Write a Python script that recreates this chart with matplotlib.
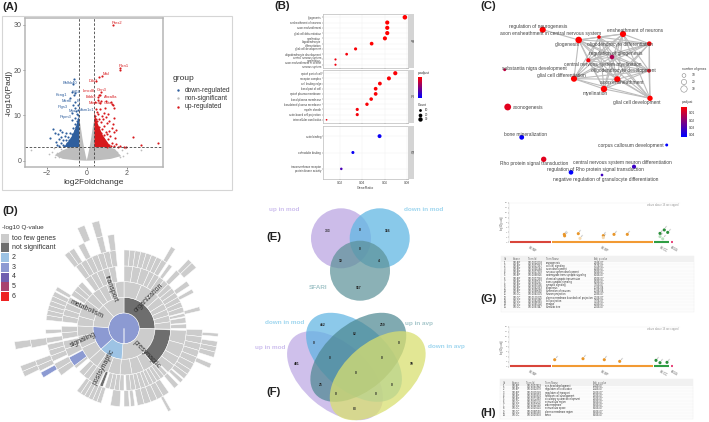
import numpy as np
import matplotlib
matplotlib.use("Agg")
import matplotlib.pyplot as plt
from matplotlib.colors import LinearSegmentedColormap
from matplotlib.patches import Circle, Ellipse, Rectangle

plt.rcParams['font.family'] = ['Liberation Sans', 'DejaVu Sans']

W, H = 709, 422

# ---- panel A, volcano
blue_x = [-0.65,-0.7,-0.72,-0.6,-0.65,-0.85,-0.6,-0.68,-0.45,-0.6,-0.42,-0.55,-0.75,-0.5,-0.42,-0.6,-0.45,-0.75,-0.5,-0.42,-0.6,-0.45,-0.55,-0.42,-0.7,-0.5,-0.6,-1.7,-1.35,-1.25,-1.6,-1.45,-1.05,-0.85,-1.3,-1.1,-0.95,-1.85,-1.4,-0.8,-1.2,-1.05,-0.9,-1.55,-1.3,-1.0,-0.8,-1.5,-1.4,-1.2,-1.05,-0.95,-0.85,-0.75,-0.7,-0.65,-0.72,-0.9,-0.58,-1.12,-0.78,-0.66,-1.0,-0.88,-0.52,-0.48,-0.62,-0.44]
blue_y = [18,16.9,15.2,15,14.5,13.8,13,12.4,12.2,11.7,11.2,11,10.5,10.2,10,9.5,9.2,9,8.7,8.5,8.2,7.9,7.5,7.2,7.2,7,6.7,7,6.7,6.4,6,5.8,6.1,6,5.3,5.4,5.2,5,4.8,5,4.6,4.5,4.5,4.2,4,4,4.1,3.5,3.3,3.5,3.5,3.3,3.6,3.9,4.6,5.2,5.8,3.2,6.1,3.2,3.3,3.5,3.7,4.2,6.4,5.6,4.3,6.9]
blue_env_x = [-0.38,-0.38,-0.46,-0.6,-0.8,-1.0,-1.12,-0.6]
blue_env_y = [3,10,8.6,6.8,4.9,3.8,3,3]

red_x = [1.32,1.65,1.67,0.75,0.6,0.45,0.72,0.68,0.6,0.55,0.58,0.42,0.72,0.66,0.95,1.2,1.25,1.3,1.35,0.9,0.65,0.45,0.5,0.85,1.05,0.55,0.75,0.42,0.95,1.35,0.62,0.8,1.1,0.5,0.7,1.0,1.3,0.45,0.88,0.6,1.25,0.78,0.42,1.45,1.1,0.95,0.7,1.38,1.0,0.52,0.85,1.15,1.4,0.65,2.3,2.7,3.55,1.55,1.65,1.85,1.95,1.45,1.25,1.1,0.95,0.8,0.68,0.58,0.48,1.2,1.05,0.9,0.75,1.35,0.55,0.62,0.84,0.46,1.0,0.72]
red_y = [30,20,20.4,18.6,18.4,17.5,15.2,14.5,14.4,14,13.5,13,13.2,12.8,13.1,13,12.5,12.2,11.7,11.6,11.5,11.3,10.8,10.6,10.3,10.2,9.9,9.8,9.7,9.4,9.3,9.1,8.8,8.7,8.5,8.3,8,7.9,7.6,7.5,7.3,7.1,7,6.8,6.6,6.4,6.2,6.3,5.9,5.8,5.6,5.4,5,5.2,5.3,3.4,3.8,3,3.2,3,3.1,3.6,4,3.4,3.8,4.3,4.6,4.8,6.5,3.2,4.8,3.3,3.6,3.2,5.6,4.4,3.9,9.1,3.1,5.3]
red_env_x = [0.38,0.38,0.46,0.6,0.8,1.0,1.2,0.6]
red_env_y = [3,11,9.2,7.6,5.6,4.3,3,3]

gray_env_x = [-1.6,-1.2,-0.8,-0.55,-0.38,-0.38,-0.32,-0.22,-0.12,-0.05,0.0,0.05,0.12,0.22,0.32,0.38,0.38,0.7,1.0,1.4,1.7,1.2,0.6,0.1,-0.1,-0.6,-1.2]
gray_env_y = [1.2,2.3,3,3,3,9,8,5,2.5,1,0.1,1,2.5,5,8,9,3,3,3,2.6,1,0.4,0.1,0,0,0.1,0.4]
gray_x = [-2.8,-1.9,-1.75,-1.6,-1.5,-1.3,1.5,1.6,1.75,1.8,1.9,2.0,2.7,1.65,-1.4,-1.65]
gray_y = [2.3,1.5,2.0,0.9,1.7,2.6,2.0,1.2,2.4,1.0,2.7,1.6,2.4,0.7,0.8,2.7]

volcano_up = ["Prex2","Plxn1","Mal","Ddx1","Lmcd8","Gnn3","Erbb3","Abca8a","Movelb","Gsta"]
volcano_up_x = [1.5,1.83,0.95,0.34,0.07,0.73,0.2,1.18,0.42,1.08]
volcano_up_y = [30.5,20.8,19.2,17.6,15.4,15.5,14,14.1,12.7,12.7]
volcano_down = ["Bhlhb40","Kcng1","Kif1b","Mertk","Bf","Pigs3","Mpz","Mam1c1","Prpm3"]
volcano_down_x = [-0.82,-1.28,-0.55,-1.0,-0.4,-1.2,-0.7,0,-1.08]
volcano_down_y = [17.1,14.6,15.1,13.2,13.2,11.9,11,11.1,9.6]

# ---- panel B, dot plot
b_bp = ["gliogenesis","ensheathment of neurons","axon ensheathment","glial cell differentiation","myelination","oligodendrocyte\ndifferentiation","glial cell development","oligodendrocyte development","central nervous system\nmyelination","axon ensheathment in central\nnervous system"]
b_bp_ratio = [0.0782,0.0624,0.0624,0.0624,0.0603,0.0484,0.034,0.026,0.016,0.016]
b_bp_count = [36,30,30,30,29,24,17,13,8,8]
b_bp_p = [0.001,0.001,0.001,0.001,0.001,0.001,0.002,0.003,0.004,0.004]
b_cc = ["apical part of cell","receptor complex","cell leading edge","basal part of cell","apical plasma membrane","basal plasma membrane","basolateral plasma membrane","myelin sheath","actin-based cell projection","intercellular canaliculus"]
b_cc_ratio = [0.0696,0.0639,0.0558,0.052,0.052,0.048,0.0442,0.0355,0.0355,0.008]
b_cc_count = [30,28,25,24,24,22,20,17,17,5]
b_cc_p = [0.002,0.002,0.002,0.002,0.002,0.002,0.002,0.003,0.003,0.004]
b_mf = ["actin binding","calmodulin binding","transmembrane receptor\nprotein kinase activity"]
b_mf_ratio = [0.0555,0.0316,0.0212]
b_mf_count = [27,16,11]
b_mf_p = [0.048,0.048,0.036]

# ---- panel C, network (node and label places in reference pixels)
c_names = ["regulation of neurogenesis","axon ensheathment in central nervous system","ensheathment of neurons","gliogenesis","oligodendrocyte differentiation","regulation of gliogenesis","central nervous system myelination","oligodendrocyte development","glial cell differentiation","axon ensheathment","myelination","glial cell development","substantia nigra development","axonogenesis","bone mineralization","corpus callosum development","Rho protein signal transduction","central nervous system neuron differentiation","regulation of Rho protein signal transduction","negative regulation of granulocyte differentiation"]
c_node_x = [542.7,599,623,578.7,649.3,612,588.3,649,574,617.3,604,650,504.7,507.7,521.7,666.7,543.7,634,571,602]
c_node_y = [29.7,37,34,40,43.7,57,60.3,70.7,78.7,79.3,89,98.3,69.7,107,137.3,145,159.3,166.7,172.3,175]
c_label_x = [538.3,550.7,635,566.7,620,616,602.3,623.3,561.3,621.7,595.3,636.3,534.3,528.3,525.3,631,533.7,622.3,595.7,606]
c_label_y = [26.3,33.7,30.3,44.3,44.7,53.7,64.3,70.7,75.3,83,93.3,102.3,68.7,107.7,134,145.3,163,162.3,169,179.3]
c_count = [26,9,26,30,15,14,12,10,26,26,28,20,6,32,16,6,20,12,15,5]
c_p = [0.001,0.002,0.001,0.001,0.002,0.015,0.003,0.004,0.001,0.001,0.001,0.001,0.012,0.006,0.044,0.046,0.006,0.035,0.046,0.034]
c_cluster = [0,1,2,3,4,5,6,7,8,9,10,11]
c_extra_edge = (0,3)

# ---- panel D, sunburst: (start deg, end deg, number of cells)
ring_r = [46,93,140,187,235,283,331]
r1_edges = [(0,91),(91,184),(184,228),(228,273),(273,318),(318,360)]
r1_colors = ["#6e6e6e","#cccccc","#9dc3e4","#8c9ad2","#cccccc","#cccccc"]
r2_cells = [(0,22,1),(22,38,1),(38,48,1),(48,58,1),(58,66,1),(66,74,1),(74,82,1),(82,91,1),(92,141,1),(141,155,1),(155,170,1),(170,185,1),(185,200,1),(200,215,1),(215,228,1),(228,245,1),(245,260,1),(260,273,1),(273,285,1),(285,296,1),(296,307,1),(307,318,1),(318,328,1),(328,338,1),(338,349,1),(349,360,1)]
r2_colors = ["#cccccc"]*8+["#6e6e6e"]+["#cccccc"]*17
r3_cells = [(0,24,3),(24,45,4),(45,75,6),(76,79,1),(80,85,1),(86,90,1),(92,118,2),(118,135,2),(136,160,6),(160,178,4),(180,198,4),(204,226,4),(230,233,1),(243,258,2),(260,272,2),(276,300,4),(302,318,3),(322,352,5)]
r3_dark = (200,203)
r3_blue = (233,242)
r4_cells = [(0,33,8),(35,38,1),(42,46,1),(53,57,1),(60,63,1),(74,77,1),(91,122,6),(122,130,2),(131,134,1),(136,140,1),(145,170,5),(172,175,1),(176,180,1),(183,190,1),(197,217,6),(233,243,2),(245,258,3),(259,263,1),(266,269,1),(276,298,6),(299,302,1),(322,354,7)]
r5_cells = [(30,33,1),(43,46,1),(46,50,1),(93,95,1),(98,108,3),(112,115,1),(150,152,1),(243,250,2),(258,263,1),(321,328,2),(331,335,1),(343,347,1),(350,354,1)]
r5_blue = (238.5,242)
r6_cells = [(244,250,2),(259,263,1),(335,339,1),(343,347,1)]
d_labels = ["organization","presynaptic","postsynaptic","signaling","metabolism","transport"]
d_label_x = [148.5,146.5,104,83.5,87,111]
d_label_y = [298,355,367,340,309,289]
d_label_rot = [45,-46,62,25,-25,-70]
d_legend = ["too few genes","not significant","2","3","4","5","6"]
d_legend_col = ["#cccccc","#6e6e6e","#9dc3e4","#8c9ad2","#6f60b0","#a8436f","#ee2222"]

# ---- panels E and F, venn numbers
e_counts = ["333","0","166","0","10","4","967"]
e_x = [328,360,388,360,341,379,359]
e_y = [230.7,230,230.7,249.3,260.7,260.7,288]
f_counts = ["452","259","82","0","0","401","0","0","99","0","25","0","0","0","83"]
f_x = [323,382.3,355,313.7,398.7,297,330.3,382,411.7,355.7,320.7,392.3,336.3,376.3,355]
f_y = [325,325,334,343,343,364.3,358.3,358.3,364.3,373.3,385,385,394.3,394.3,409.3]

# ---- panels G and H, g:Profiler
g_dot_x = [55.3,55.6,69.3,94.3,105,118.3,71,94.3,151,155.3,158.7,151,153.7]
g_dot_y = [1.6,1.3,1.75,1.35,1.6,1.6,0.8,0.95,1.8,2.5,2.0,1.15,0.7]
g_dot_c = ["#e8962a"]*6+["#f6d9ad"]*2+["#2c8f3c"]*3+["#b8e0bd"]*2
h_dot_x = [45.7,74,95.3,110.7,147,151,158]
h_dot_y = [1.4,1.6,1.4,1.07,1.27,0.8,0.87]
h_dot_c = ["#e8962a"]*4+["#2c8f3c"]*3
g_terms = ["neurogenesis","cell-cell signaling","axon development","nervous system development","anterograde trans-synaptic signaling","chemical synaptic transmission","trans-synaptic signaling","synaptic signaling","gliogenesis","generation of neurons","neuron projection","plasma membrane bounded cell projection","cell projection","synapse","dendritic tree"]
g_ids = ["GO:0022008","GO:0007267","GO:0061564","GO:0007399","GO:0098916","GO:0007268","GO:0099537","GO:0099536","GO:0042063","GO:0048699","GO:0043005","GO:0120025","GO:0042995","GO:0045202","GO:0097447"]
g_src = ["GO:BP"]*10+["GO:CC"]*5
g_pv = ["2.88E-07","3.57E-07","4.03E-07","8.02E-07","8.02E-07","8.02E-07","8.02E-07","7.05E-07","1.39E-06","1.39E-06","2.03E-07","2.32E-07","7.97E-07","2.06E-07","2.06E-07"]
h_terms = ["eye-head development","regulation of localization","regulation of transport","forebrain-cell development","circulatory system development","extracellular region","endomembrane","extracellular space","plasma membrane region","cortex"]
h_ids = ["GO:0007423","GO:0032879","GO:0051049","GO:0030900","GO:0072359","GO:0005576","GO:0012505","GO:0005615","GO:0098590","GO:0005938"]
h_src = ["GO:BP"]*5+["GO:CC"]*5
h_pv = ["1.40E-07","1.40E-07","1.80E-07","1.80E-07","1.80E-07","6.80E-07","6.80E-07","6.80E-07","6.80E-07","6.80E-07"]

fig = plt.figure(figsize=(W/100, H/100), dpi=100)

def ax_px(x0, y0, x1, y1, **kw):
    return fig.add_axes([x0/W, 1-y1/H, (x1-x0)/W, (y1-y0)/H], **kw)

# overlay in reference pixels, for everything that has no axis of its own
ov = ax_px(0, 0, W, H, zorder=5)
ov.set_xlim(0, W)
ov.set_ylim(H, 0)
ov.axis('off')
ov.patch.set_alpha(0)

for name, x, y in [("(A)",2,7),("(B)",274,6),("(C)",480,6),("(D)",2,211),("(E)",266,237),("(F)",266,392),("(G)",480,299),("(H)",480,413)]:
    ov.text(x, y, name, fontsize=8.2, fontweight='bold', va='center', color="#222222")

# A
ov.add_patch(Rectangle((2,16), 230, 174, fc='none', ec='#d5d5d5', lw=0.8))
a = ax_px(25, 18, 163, 167)
a.set_xlim(-3.08, 3.8)
a.set_ylim(-1.4, 31.5)
a.fill(gray_env_x, gray_env_y, color='#bdbdbd', lw=0)
a.scatter(gray_x, gray_y, s=1.5, color='#bdbdbd', lw=0)
a.fill(blue_env_x, blue_env_y, color='#2f5f9e', lw=0)
a.fill(red_env_x, red_env_y, color='#d7191c', lw=0)
a.scatter(blue_x, blue_y, s=2.4, color='#2f5f9e', lw=0)
a.scatter(red_x, red_y, s=2.4, color='#d7191c', lw=0)
for v in [-0.38, 0.38]:
    a.axvline(v, color='#444444', lw=0.6, ls=(0,(3,2)))
a.axhline(3, color='#444444', lw=0.6, ls=(0,(3,2)))
for t, x, y in zip(volcano_up, volcano_up_x, volcano_up_y):
    a.text(x, y, t, fontsize=2.9, color='#d7191c', ha='center', va='center')
for t, x, y in zip(volcano_down, volcano_down_x, volcano_down_y):
    a.text(x, y, t, fontsize=2.9, color='#2f5f9e', ha='center', va='center')
a.set_xticks([-2,0,2])
a.set_yticks([0,10,20,30])
a.tick_params(labelsize=5, colors='#555555', length=1.5, width=0.5, pad=1)
a.set_xlabel("log2Foldchange", fontsize=6, labelpad=1, color='#333333')
a.set_ylabel("-log10(Padj)", fontsize=6, labelpad=1, color='#333333')
for s in a.spines.values():
    s.set_color('#b5b5b5')
    s.set_linewidth(1.1)
ov.text(173, 79, "group", fontsize=6, va='center', color='#333333')
for y, c, t in [(90,'#2f5f9e',"down-regulated"),(98,'#bdbdbd',"non-significant"),(107,'#d7191c',"up-regulated")]:
    ov.scatter([178], [y], s=3, color=c, lw=0)
    ov.text(185, y, t, fontsize=4.8, va='center', color='#333333')

# B
rg = LinearSegmentedColormap.from_list('rb', ['#ff0000','#0000ff'])
facets = [(14,68,b_bp,b_bp_ratio,b_bp_count,b_bp_p,"BP"),(70,123,b_cc,b_cc_ratio,b_cc_count,b_cc_p,"CC"),(126,179,b_mf,b_mf_ratio,b_mf_count,b_mf_p,"MF")]
for y0, y1, names, ratio, count, pv, strip in facets:
    f = ax_px(323, y0, 408, y1)
    f.set_xlim(0.0048, 0.081)
    n = len(names)
    pos = np.arange(n)
    f.set_ylim(n-0.5+0.12, -0.5-0.12)
    f.grid(color='#eeeeee', lw=0.3)
    f.set_axisbelow(True)
    f.scatter(ratio, pos, s=np.array(count)*0.3, c=pv, cmap=rg, vmin=0.001, vmax=0.05, lw=0)
    f.set_yticks(pos)
    f.set_yticklabels(names, fontsize=2.0, color='#444444', linespacing=0.8)
    f.set_xticks([0.02,0.04,0.06,0.08])
    if strip == "MF":
        f.set_xticklabels(["0.02","0.04","0.06","0.08"], fontsize=2.3, color='#444444')
        f.set_xlabel("GeneRatio", fontsize=2.6, labelpad=0.5, color='#444444')
    else:
        f.set_xticklabels([])
    f.tick_params(length=0.8, width=0.2, pad=0.6)
    for s in f.spines.values():
        s.set_color('#bbbbbb')
        s.set_linewidth(0.5)
    ov.add_patch(Rectangle((408,y0), 6, y1-y0, fc='#d4d4d4', ec='none'))
    ov.text(411, (y0+y1)/2, strip, fontsize=2.2, rotation=-90, ha='center', va='center', color='#333333')
bar = ax_px(418, 77, 422, 98)
bar.imshow(np.linspace(0,1,50).reshape(-1,1), aspect='auto', cmap=rg)
bar.axis('off')
ov.text(418, 73, "p.adjust", fontsize=2.4, va='center', color='#333333')
ov.text(418, 105, "Count", fontsize=2.4, va='center', color='#333333')
for y, s, t in [(110,4,"10"),(114.5,7,"20"),(119,10,"30")]:
    ov.scatter([420], [y], s=s, color='black', lw=0)
    ov.text(425, y, t, fontsize=2.2, va='center', color='#333333')

# C
pairs = [(c_cluster[i],c_cluster[j]) for i in range(1,12) for j in range(i+1,12)]+[c_extra_edge]
for i, j in pairs:
    ov.plot([c_node_x[i],c_node_x[j]], [c_node_y[i],c_node_y[j]], color='#bdbdbd', lw=0.8, zorder=1)
ov.scatter(c_node_x, c_node_y, s=np.array(c_count)*0.75, c=c_p, cmap=rg, vmin=0.001, vmax=0.045, lw=0, zorder=2)
for t, x, y in zip(c_names, c_label_x, c_label_y):
    ov.text(x, y, t, fontsize=3.5, ha='center', va='center', color='#444444', zorder=3)
ov.text(694, 69, "number of genes", fontsize=2.3, ha='center', va='center', color='#333333')
for y, r, t in [(75.5,1.9,"10"),(82,2.6,"20"),(89,3.2,"30")]:
    ov.add_patch(Circle((684,y), r, fc='none', ec='#888888', lw=0.4))
    ov.text(692, y, t, fontsize=2.3, va='center', color='#333333')
ov.text(687, 102, "p.adjust", fontsize=2.3, ha='center', va='center', color='#333333')
cbar = ax_px(680.7, 106.7, 686.7, 137.5)
cbar.imshow(np.linspace(0,1,50).reshape(-1,1), aspect='auto', cmap=rg)
cbar.axis('off')
for y, t in [(113.3,"0.01"),(120.7,"0.02"),(128,"0.03"),(135.3,"0.04")]:
    ov.text(689, y, t, fontsize=2.3, va='center', color='#333333')

# D
d = ax_px(124-113, 328.3-113, 124+113, 328.3+113, projection='polar')
d.set_theta_zero_location('N')
d.set_theta_direction(-1)
d.set_ylim(0, 339)
d.axis('off')
d.patch.set_alpha(0)

def cells(ax, lst, r0, r1, color='#cccccc'):
    for a0, a1, n in lst:
        step = (a1-a0)/n
        for k in range(n):
            ax.bar(np.deg2rad(a0+step*(k+0.5)), r1-r0, width=np.deg2rad(step), bottom=r0, color=color, ec='white', lw=0.35)

d.bar(0, ring_r[0], width=2*np.pi, bottom=0, color='#8c9ad2', ec='white', lw=0.35)
for (a0, a1), c in zip(r1_edges, r1_colors):
    d.bar(np.deg2rad((a0+a1)/2), ring_r[1]-ring_r[0], width=np.deg2rad(a1-a0), bottom=ring_r[0], color=c, ec='white', lw=0.35)
for cell, c in zip(r2_cells, r2_colors):
    cells(d, [cell], ring_r[1], ring_r[2], c)
cells(d, r3_cells, ring_r[2], ring_r[3])
cells(d, [(r3_dark[0],r3_dark[1],1)], ring_r[2], ring_r[3], '#6e6e6e')
cells(d, [(r3_blue[0],r3_blue[1],1)], ring_r[2], ring_r[3], '#8c9ad2')
cells(d, r4_cells, ring_r[3], ring_r[4])
cells(d, r5_cells, ring_r[4], ring_r[5])
cells(d, [(r5_blue[0],r5_blue[1],1)], ring_r[4], ring_r[5], '#8c9ad2')
cells(d, r6_cells, ring_r[5], ring_r[6])
for t, x, y, rot in zip(d_labels, d_label_x, d_label_y, d_label_rot):
    ov.text(x, y, t, fontsize=5, ha='center', va='center', rotation=rot, color='#333333')
ov.text(2, 228, "-log10 Q-value", fontsize=4.6, va='center', color='#333333')
for k, (t, c) in enumerate(zip(d_legend, d_legend_col)):
    y = 237.5+k*9.75
    ov.add_patch(Rectangle((1,y-4), 8, 9, fc=c, ec='none'))
    ov.text(11.5, y+0.5, t, fontsize=5, va='center', color='#333333')

# E
for xy, c, al in [((341,238.3),'#c3b1e6',0.85),((379.7,238.3),'#62b7e3',0.75),((360,270.7),'#5a9097',0.7)]:
    ov.add_patch(Circle(xy, 30, fc=c, ec='none', alpha=al))
for t, x, y in zip(e_counts, e_x, e_y):
    ov.text(x, y, t, fontsize=2.4, fontweight='bold', ha='center', va='center', color='#222222')
ov.text(284.5, 209.5, "up in mod", fontsize=4.6, fontweight='bold', ha='center', va='center', color='#cdbfee')
ov.text(424, 209.5, "down in mod", fontsize=4.6, fontweight='bold', ha='center', va='center', color='#9fd6ef')
ov.text(318.5, 287.5, "SFARI", fontsize=4.6, fontweight='bold', ha='center', va='center', color='#a5c6ca')

# F
for xy, ang, c, al in [((335,375.7),40.7,'#c3b1e6',0.8),((354,357.3),40.7,'#5cb2e2',0.7),((358.3,357.3),-40.7,'#4b8690',0.7),((377.7,375.7),-40.7,'#d9df70',0.75)]:
    ov.add_patch(Ellipse(xy, 113, 66, angle=ang, fc=c, ec='none', alpha=al))
for t, x, y in zip(f_counts, f_x, f_y):
    ov.text(x, y, t, fontsize=2.4, fontweight='bold', ha='center', va='center', color='#222222')
ov.text(284.5, 323, "down in mod", fontsize=4.6, fontweight='bold', ha='center', va='center', color='#9fd6ef')
ov.text(270, 347, "up in mod", fontsize=4.6, fontweight='bold', ha='center', va='center', color='#cdbfee')
ov.text(419, 323, "up in avp", fontsize=4.6, fontweight='bold', ha='center', va='center', color='#a5c6ca')
ov.text(446, 346.5, "down in avp", fontsize=4.6, fontweight='bold', ha='center', va='center', color='#9fd6ef')

# G, H
def gprofiler(top, bottom, dx, dy, dc):
    m = ax_px(509, top, 680, bottom)
    m.set_xlim(0, 171)
    m.set_ylim(0, 8)
    m.scatter(dx, dy, s=5, c=dc, lw=0, zorder=3)
    for x0, x1, c, t in [(1,42,'#d9453a',"GO:MF"),(43,144,'#f29a33',"GO:BP"),(145,160,'#2f9e44',"GO:CC"),(162,164,'#e84a7f',"KEGG")]:
        m.plot([x0,x1], [0.05,0.05], color=c, lw=1.5, solid_capstyle='butt', clip_on=False)
        m.text((x0+x1)/2+2, -0.6, t, fontsize=2, rotation=-30, ha='center', va='top', color='#555555')
    for k, x in enumerate(dx):
        m.text(x+1.2, dy[k]+0.3, "GO", fontsize=1.6, rotation=45, color='#777777')
    m.set_xticks([])
    m.set_yticks(np.arange(0, 9))
    m.set_yticklabels([str(v*2) for v in range(9)], fontsize=1.7, color='#777777')
    m.tick_params(length=0.8, width=0.2, pad=0.4)
    m.set_ylabel("-log10(p-adj)", fontsize=1.9, labelpad=0.6, color='#666666')
    m.spines['right'].set_visible(False)
    m.spines['bottom'].set_visible(False)
    m.spines['top'].set_color('#eeeeee')
    m.spines['left'].set_color('#cccccc')
    m.spines['top'].set_linewidth(0.3)
    m.spines['left'].set_linewidth(0.3)
    m.text(169, 7.85, "values above 16 are capped", fontsize=1.8, ha='right', va='top', color='#999999')

def table(x0, x1, y0, y1, head, start, step, src, ids, terms, pv):
    ov.add_patch(Rectangle((x0,y0), x1-x0, y1-y0, fc='#fcfcfc', ec='#eeeeee', lw=0.3))
    ov.add_patch(Rectangle((x0,y0), x1-x0, head-y0+3, fc='#f1f1f1', ec='none'))
    cols = [x0+2.5, x0+11.5, x0+26.5, x0+45, x0+93]
    for x, t in zip(cols, ["Id","Source","Term Id","Term Name","Adj. p-value"]):
        ov.text(x, head, t, fontsize=1.8, va='center', color='#666666')
    for i in range(len(terms)):
        y = start+i*step
        for x, t in zip(cols, [str(i+1), src[i], ids[i], terms[i], pv[i]]):
            ov.text(x, y, t, fontsize=1.8, va='center', color='#333333')
        ov.plot([x0,x1], [y+step/2,y+step/2], color='#eeeeee', lw=0.2)

gprofiler(202.7, 242.3, g_dot_x, g_dot_y, g_dot_c)
table(501, 694.3, 256, 311.7, 259, 262.7, 3.17, g_src, g_ids, g_terms, g_pv)
gprofiler(326.7, 366.7, h_dot_x, h_dot_y, h_dot_c)
table(500, 693.3, 379.3, 419.3, 382.7, 386.3, 3.17, h_src, h_ids, h_terms, h_pv)

fig.savefig("out.png", dpi=100)
